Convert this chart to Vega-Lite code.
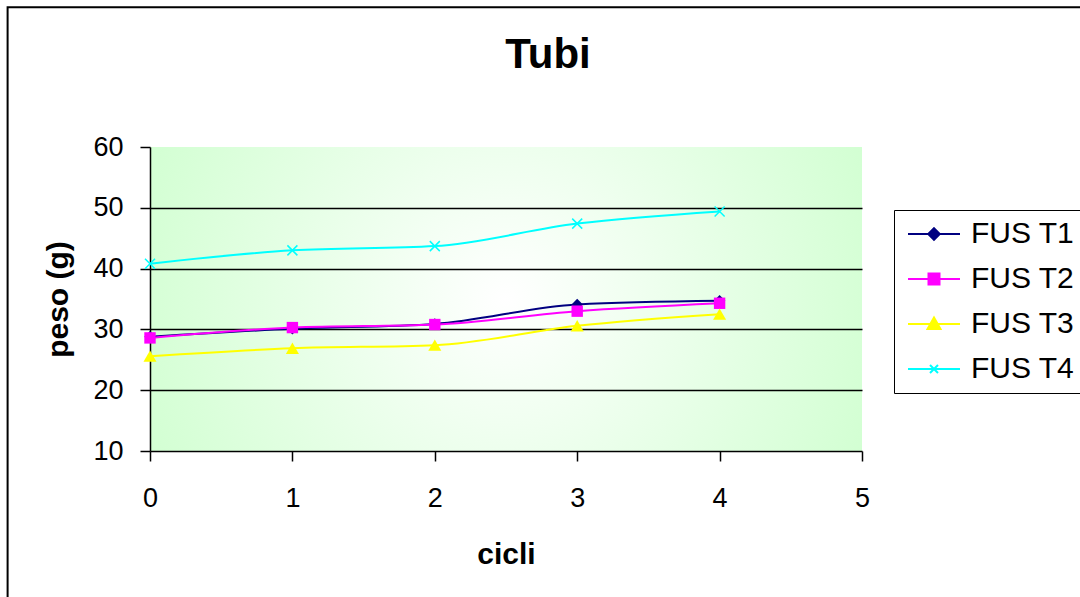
{
  "$schema": "https://vega.github.io/schema/vega-lite/v6.json",
  "width": 712,
  "height": 304,
  "autosize": {"type": "none"},
  "padding": {"left": 150, "top": 147, "right": 218, "bottom": 146},
  "background": "white",
  "title": {"text": "Tubi", "font": "Liberation Sans", "fontSize": 42, "fontWeight": "bold", "color": "black", "anchor": "middle", "frame": "group", "dx": 42, "offset": 0, "baseline": "alphabetic", "dy": 104},
  "config": {
    "font": "Liberation Sans",
    "view": {"stroke": null, "fill": {"gradient": "radial", "x1": 0.5, "y1": 0.5, "r1": 0, "x2": 0.5, "y2": 0.5, "r2": 0.62, "stops": [{"offset": 0, "color": "#ffffff"}, {"offset": 1, "color": "#ccffcc"}]}},
    "axis": {"domainColor": "black", "domainWidth": 1.5, "tickColor": "black", "tickWidth": 1.5, "labelColor": "black", "titleColor": "black", "labelFont": "Liberation Sans", "titleFont": "Liberation Sans", "labelFontSize": 27, "titleFontSize": 30, "titleFontWeight": "bold", "labelFlush": false}
  },
  "data": {"values": [
    {"serie": "FUS T1", "cicli": 0, "peso": 28.8},
    {"serie": "FUS T1", "cicli": 1, "peso": 30.1},
    {"serie": "FUS T1", "cicli": 2, "peso": 30.9},
    {"serie": "FUS T1", "cicli": 3, "peso": 34.1},
    {"serie": "FUS T1", "cicli": 4, "peso": 34.7},
    {"serie": "FUS T2", "cicli": 0, "peso": 28.6},
    {"serie": "FUS T2", "cicli": 1, "peso": 30.3},
    {"serie": "FUS T2", "cicli": 2, "peso": 30.8},
    {"serie": "FUS T2", "cicli": 3, "peso": 33.0},
    {"serie": "FUS T2", "cicli": 4, "peso": 34.3},
    {"serie": "FUS T3", "cicli": 0, "peso": 25.6},
    {"serie": "FUS T3", "cicli": 1, "peso": 26.9},
    {"serie": "FUS T3", "cicli": 2, "peso": 27.4},
    {"serie": "FUS T3", "cicli": 3, "peso": 30.6},
    {"serie": "FUS T3", "cicli": 4, "peso": 32.5},
    {"serie": "FUS T4", "cicli": 0, "peso": 40.8},
    {"serie": "FUS T4", "cicli": 1, "peso": 43.0},
    {"serie": "FUS T4", "cicli": 2, "peso": 43.7},
    {"serie": "FUS T4", "cicli": 3, "peso": 47.4},
    {"serie": "FUS T4", "cicli": 4, "peso": 49.4}
  ]},
  "layer": [
    {
      "data": {"values": [{"frame": 1}]},
      "mark": {"type": "rect", "fill": null, "stroke": "black", "strokeWidth": 2},
      "encoding": {
        "x": {"datum": -1, "type": "quantitative"},
        "x2": {"datum": 7},
        "y": {"datum": 83, "type": "quantitative"},
        "y2": {"datum": -20}
      }
    },
    {
      "mark": {"type": "line", "interpolate": "monotone", "strokeWidth": 2},
      "encoding": {
        "x": {"field": "cicli", "type": "quantitative", "scale": {"domain": [0, 5], "nice": false, "zero": false},
              "axis": {"title": "cicli", "values": [0, 1, 2, 3, 4, 5], "format": "d", "grid": false, "tickSize": 10, "labelPadding": 24, "titleY": 112, "titleBaseline": "alphabetic"}},
        "y": {"field": "peso", "type": "quantitative", "scale": {"domain": [10, 60], "nice": false, "zero": false},
              "axis": {"title": "peso (g)", "values": [10, 20, 30, 40, 50, 60], "format": "d", "grid": true, "gridColor": "black", "gridWidth": 1.5,
                       "gridOpacity": {"condition": {"test": "datum.value > 10 && datum.value < 60", "value": 1}, "value": 0},
                       "tickSize": 10, "labelPadding": 17, "titleX": -83, "titleBaseline": "alphabetic"}},
        "color": {"field": "serie", "type": "nominal",
                  "scale": {"domain": ["FUS T1", "FUS T2", "FUS T3", "FUS T4"], "range": ["#000080", "#ff00ff", "#ffff00", "#00ffff"]}},
        "order": {"field": "cicli"}
      }
    },
    {
      "transform": [{"filter": "datum.serie === 'FUS T1'"}],
      "mark": {"type": "point", "shape": "diamond", "filled": true, "opacity": 1, "size": 130, "color": "#000080"},
      "encoding": {"x": {"field": "cicli", "type": "quantitative"}, "y": {"field": "peso", "type": "quantitative"}}
    },
    {
      "transform": [{"filter": "datum.serie === 'FUS T2'"}],
      "mark": {"type": "point", "shape": "square", "filled": true, "opacity": 1, "size": 130, "color": "#ff00ff"},
      "encoding": {"x": {"field": "cicli", "type": "quantitative"}, "y": {"field": "peso", "type": "quantitative"}}
    },
    {
      "transform": [{"filter": "datum.serie === 'FUS T3'"}],
      "mark": {"type": "point", "shape": "triangle-up", "filled": true, "opacity": 1, "size": 170, "color": "#ffff00"},
      "encoding": {"x": {"field": "cicli", "type": "quantitative"}, "y": {"field": "peso", "type": "quantitative"}}
    },
    {
      "transform": [{"filter": "datum.serie === 'FUS T4'"}],
      "mark": {"type": "point", "shape": "M-1,-1L1,1M-1,1L1,-1", "filled": false, "opacity": 1, "size": 100, "strokeWidth": 1.5, "color": "#00ffff"},
      "encoding": {"x": {"field": "cicli", "type": "quantitative"}, "y": {"field": "peso", "type": "quantitative"}}
    },
    {
      "mark": {"type": "point", "filled": true, "opacity": 0},
      "encoding": {
        "x": {"field": "cicli", "type": "quantitative"},
        "y": {"field": "peso", "type": "quantitative"},
        "color": {"field": "serie", "type": "nominal",
                  "legend": {"title": null, "orient": "none", "direction": "vertical", "legendX": 744, "legendY": 63,
                             "strokeColor": "black", "padding": 9, "cornerRadius": 0,
                             "labelFont": "Liberation Sans", "labelFontSize": 30, "labelColor": "black", "labelLimit": 300,
                             "symbolSize": 100, "symbolOpacity": 1, "symbolStrokeWidth": 2,
                             "symbolOffset": 16, "labelOffset": 22, "rowPadding": 15,
                             "encode": {"legend": {"strokeWidth": {"value": 2}}}}},
        "stroke": {"field": "serie", "type": "nominal", "scale": {"domain": ["FUS T1", "FUS T2", "FUS T3", "FUS T4"], "range": ["#000080", "#ff00ff", "#ffff00", "#00ffff"]}},
        "shape": {"field": "serie", "type": "nominal", "scale": {"domain": ["FUS T1", "FUS T2", "FUS T3", "FUS T4"],
                  "range": ["M-5.2,0L5.2,0M0,-1.15L1.15,0L0,1.15L-1.15,0Z", "M-5.2,0L5.2,0M-1.1,-1.1L1.1,-1.1L1.1,1.1L-1.1,1.1Z", "M-5.2,0L5.2,0M0,-1.3L1.3,1L-1.3,1Z", "M-5.2,0L5.2,0M-0.8,-0.8L0.8,0.8M-0.8,0.8L0.8,-0.8"]}}
      }
    }
  ]
}
